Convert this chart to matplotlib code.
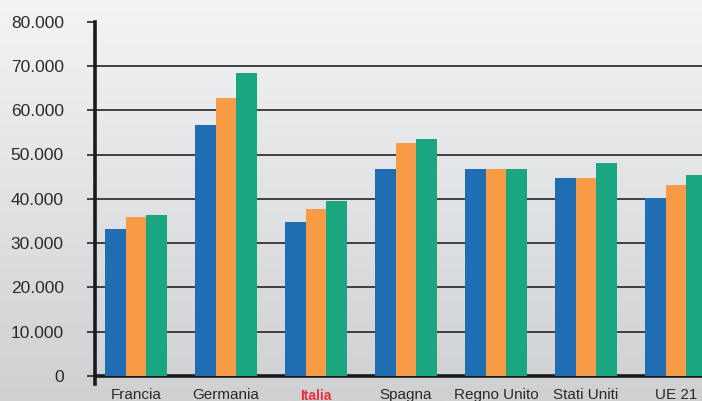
import numpy as np
import matplotlib
matplotlib.use("Agg")
import matplotlib.pyplot as plt
from matplotlib.colors import LinearSegmentedColormap
from matplotlib.ticker import FuncFormatter, MultipleLocator
from matplotlib.transforms import ScaledTranslation

# dati
categorie = ["Francia", "Germania", "Italia", "Spagna", "Regno Unito", "Stati Uniti", "UE 21"]
serie_a = [33200, 56700, 34700, 46800, 46800, 44600, 40200]
serie_b = [35900, 62800, 37800, 52500, 46800, 44600, 43200]
serie_c = [36400, 68500, 39600, 53600, 46800, 48000, 45400]

COLORI = ["#1f6eb4", "#f89b47", "#1aa680"]
GRID = "#333333"

plt.rcParams["font.family"] = ["Liberation Sans", "DejaVu Sans"]

fig = plt.figure(figsize=(7.02, 4.01), dpi=100)

# sfondo sfumato
bg = fig.add_axes([0, 0, 1, 1], zorder=-10)
grad = np.linspace(0, 1, 256).reshape(-1, 1)
cmap = LinearSegmentedColormap.from_list("bg", ["#f3f4f5", "#cfd0d2"])
bg.imshow(grad, aspect="auto", cmap=cmap, extent=[0, 1, 0, 1])
bg.axis("off")

ax = fig.add_axes([95 / 702, 25 / 401, 1 - 95 / 702, (376 - 21.6) / 401])
ax.patch.set_alpha(0)

x = np.arange(len(categorie))
w = 0.228
for i, (vals, col) in enumerate(zip([serie_a, serie_b, serie_c], COLORI)):
    ax.bar(x + (i - 1) * w, vals, width=w, color=col, zorder=3, linewidth=0)

ax.set_xlim(-0.456, 6.29)
ax.set_ylim(0, 80000)
ax.yaxis.set_major_locator(MultipleLocator(10000))
ax.yaxis.set_major_formatter(FuncFormatter(lambda v, p: f"{v:,.0f}".replace(",", ".")))

for v in range(10000, 80000, 10000):
    ax.axhline(v, color=GRID, lw=1.3, zorder=1)

for s in ["top", "right"]:
    ax.spines[s].set_visible(False)
for s in ["left", "bottom"]:
    ax.spines[s].set_linewidth(2.6)
    ax.spines[s].set_color("#1a1a1a")
# piccolo prolungamento dell'asse verticale sotto lo zero
ax.plot([-0.456, -0.456], [-1700, 0], color="#1a1a1a", lw=2.6, clip_on=False, zorder=5)

ax.tick_params(axis="y", length=5.5, width=1.3, color=GRID, pad=17, labelsize=12.5, labelcolor="#2a2a2a")
ax.tick_params(axis="x", length=0, pad=8.5, labelsize=11, labelcolor="#2a2a2a")
ax.set_xticks(x)
ax.set_xticklabels(categorie)

lab = ax.get_xticklabels()[2]
lab.set_color("#e8313c")
lab.set_fontweight("bold")
lab.set_fontsize(10)
lab.set_transform(lab.get_transform() + ScaledTranslation(0, -0.5 / 72, fig.dpi_scale_trans))

fig.savefig("out.png", dpi=100)
